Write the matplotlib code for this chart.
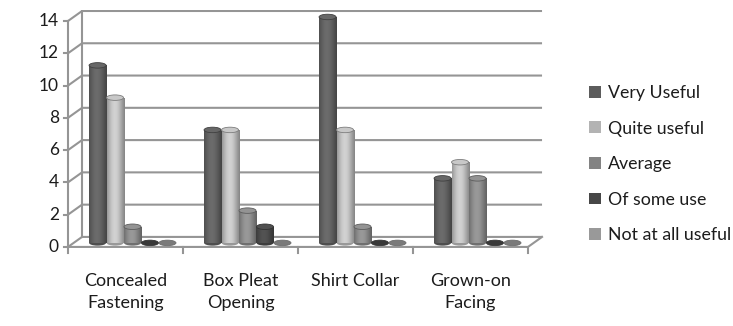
import numpy as np
import matplotlib
matplotlib.use("Agg")
import matplotlib.pyplot as plt
from matplotlib.patches import Ellipse, Rectangle
from matplotlib.colors import to_rgb

categories = ["Concealed\nFastening", "Box Pleat\nOpening", "Shirt Collar", "Grown-on\nFacing"]
series_names = ["Very Useful", "Quite useful", "Average", "Of some use", "Not at all useful"]
very_useful = [11, 7, 14, 4]
quite_useful = [9, 7, 7, 5]
average = [1, 2, 1, 4]
of_some_use = [0, 1, 0, 0]
not_at_all_useful = [0, 0, 0, 0]
series_values = [very_useful, quite_useful, average, of_some_use, not_at_all_useful]
y_ticks = [0, 2, 4, 6, 8, 10, 12, 14]

colors = ["#5c5c5c", "#b3b3b3", "#838383", "#474747", "#999999"]
grid_color = "#959595"
text_color = "#1c1c1c"

plt.rcParams['font.family'] = ['Lato', 'DejaVu Sans']

fig = plt.figure(figsize=(7.33, 3.26), dpi=100)
ax = fig.add_axes([62.25 / 733, (326 - 255) / 326, 483 / 733, 245.3 / 326])
ax.set_xlim(-0.55, 3.65)
ax.set_ylim(-0.5, 14.7)
ax.axis("off")

n_cat = len(categories)
depth_dx, depth_dy = 0.122, 0.62
x0, x1 = -0.5, n_cat - 0.5

# back wall / grid lines
for v in y_ticks:
    ax.plot([x0, x0 + depth_dx, x1 + depth_dx], [v, v + depth_dy, v + depth_dy],
            color=grid_color, lw=1.5, solid_capstyle="butt", zorder=1)
    ax.plot([x0 - 0.035, x0], [v, v], color=grid_color, lw=1.5, zorder=1)
    ax.text(x0 - 0.08, v, str(v), ha="right", va="center", fontsize=12.5, color=text_color)
# left wall vertical
ax.plot([x0 + depth_dx, x0 + depth_dx], [depth_dy, y_ticks[-1] + depth_dy], color=grid_color, lw=1.5, zorder=1)
# front y-axis
ax.plot([x0, x0], [0, y_ticks[-1]], color=grid_color, lw=1.5, zorder=1)
# floor
ax.plot([x0, x1, x1 + depth_dx], [0, 0, depth_dy], color=grid_color, lw=1.5, zorder=1)
# category ticks
for i in range(n_cat + 1):
    ax.plot([x0 + i, x0 + i], [0, -0.35], color=grid_color, lw=1.5, zorder=1, clip_on=False)
for i, c in enumerate(categories):
    ax.text(i, -1.6, c, ha="center", va="top", fontsize=13, color=text_color,
            linespacing=1.45, clip_on=False)

# bars as cylinders
bar_w = 0.148
step = 0.152
shift_x, base = 0.061, 0.25
ell_h = 0.34
t = np.linspace(0, 1, 64)
shade = 0.72 + 0.45 * np.sin(np.pi * (0.15 + 0.8 * t)) ** 1.5
for s, (vals, col) in enumerate(zip(series_values, colors)):
    rgb = np.array(to_rgb(col))
    grad = np.clip(shade[None, :, None] * rgb[None, None, :], 0, 1)
    for i, v in enumerate(vals):
        xc = i + shift_x + (s - 2) * step
        left = xc - bar_w / 2
        if v > 0:
            rect = Rectangle((left, base), bar_w, v, facecolor="none", edgecolor="none", zorder=3)
            ax.add_patch(rect)
            im = ax.imshow(grad, extent=[left, left + bar_w, base, base + v], aspect="auto",
                           zorder=3, interpolation="bilinear")
            im.set_clip_path(rect)
            bot = Ellipse((xc, base), bar_w, ell_h, facecolor=tuple(rgb * 0.85), edgecolor="none", zorder=2.9)
            ax.add_patch(bot)
        top = Ellipse((xc, base + v), bar_w, ell_h,
                      facecolor=tuple(np.clip(rgb * (0.8 if v == 0 else 1.12), 0, 1)),
                      edgecolor=tuple(rgb * 0.7), lw=0.6, zorder=4)
        ax.add_patch(top)

# legend
handles = [Rectangle((0, 0), 1, 1, facecolor=c, edgecolor="none") for c in colors]
leg = fig.legend(handles, series_names, loc="upper left", bbox_to_anchor=(582 / 733, 1 - 78 / 326),
                 frameon=False, fontsize=12.8, handlelength=0.65, handleheight=0.65,
                 handletextpad=0.4, labelspacing=1.1, borderaxespad=0)
for txt in leg.get_texts():
    txt.set_color(text_color)

fig.savefig("out.png", dpi=100)
